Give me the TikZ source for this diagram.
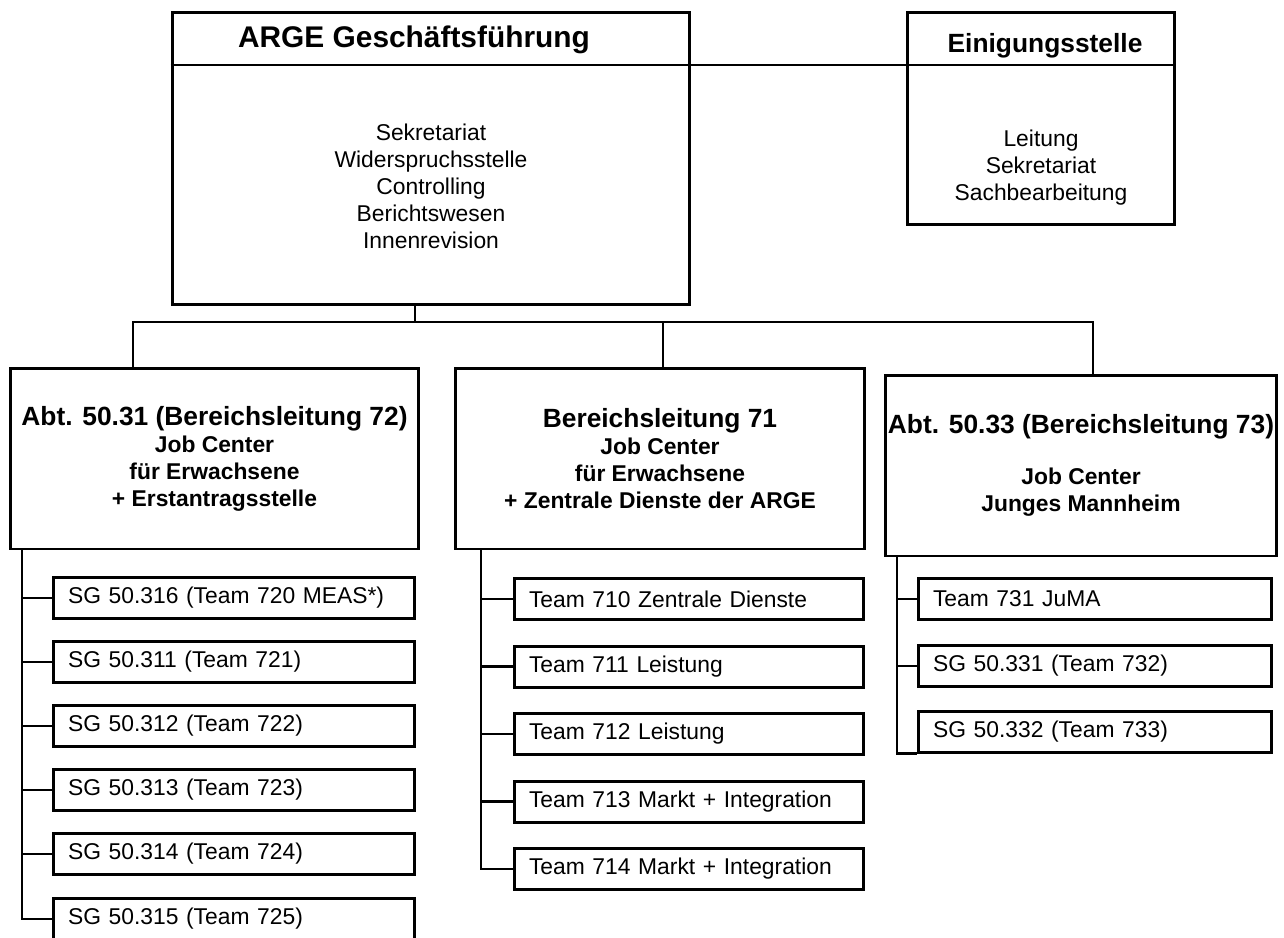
\documentclass[tikz,border=0pt]{standalone}
\usepackage{fontspec}
\setmainfont{Liberation Sans}
\usetikzlibrary{positioning, calc}

\begin{document}
\begin{tikzpicture}[x=0.02cm, y=-0.02cm,
  unit/.style={draw, rectangle, line width=1.7pt, inner sep=0pt, align=center, font=\bfseries\fontsize{13}{15.4}\selectfont},
  team/.style={draw, rectangle, line width=1.7pt, minimum height=0.82cm, inner xsep=0.3cm, inner ysep=0pt, align=left, font=\fontsize{13}{15.4}\selectfont},
  body/.style={align=center, font=\fontsize{13}{15.4}\selectfont},
  link/.style={line width=1.6pt}]
  \useasboundingbox (0,0) rectangle (1284,937);

  % Geschaeftsfuehrung + Einigungsstelle
  \node[unit, minimum width=10.36cm, minimum height=5.86cm] (arge) at (431,158.5) {};
  \node[font=\bfseries\fontsize{17}{20}\selectfont] (argetitle) at (414,40) {ARGE Geschäftsführung};
  \node[body] (argebody) at (431,186) {Sekretariat\\Widerspruchsstelle\\Controlling\\Berichtswesen\\Innenrevision};

  \node[unit, minimum width=5.36cm, minimum height=4.26cm] (einig) at (1041,118.5) {};
  \node[font=\bfseries\fontsize{15}{18}\selectfont] (einigtitle) at (1045,46) {Einigungsstelle};
  \node[body] (einigbody) at (1041,168) {Leitung\\Sekretariat\\Sachbearbeitung};

  \coordinate (hdr) at (0,65);
  \draw[line width=1.7pt] (arge.west |- hdr) -- (einig.east |- hdr);

  % Bereiche
  \node[unit, minimum width=8.18cm, minimum height=3.62cm] (b1) at (214.5,458.5)
    {{\fontsize{15}{18}\selectfont Abt. 50.31 (Bereichsleitung 72)}\\Job Center\\für Erwachsene\\+ Erstantragsstelle};
  \node[unit, minimum width=8.2cm, minimum height=3.62cm] (b2) at (660,458.5)
    {{\fontsize{15}{18}\selectfont Bereichsleitung 71}\\Job Center\\für Erwachsene\\+ Zentrale Dienste der ARGE};
  \node[unit, minimum width=7.84cm, minimum height=3.62cm] (b3) at (1081,465.5)
    {{\fontsize{15}{18}\selectfont Abt. 50.33 (Bereichsleitung 73)}\\[14pt]Job Center\\Junges Mannheim};

  \coordinate (fork) at (415,322);
  \coordinate (j1) at (133,322);
  \coordinate (j2) at (663,322);
  \coordinate (j3) at (1093,322);
  \draw[line width=1.2pt] (arge.south -| fork) -- (fork);
  \draw[line width=1.2pt] (j1 |- b1.north) -- (j1) -- (j3) -- (j3 |- b3.north);
  \draw[line width=1.2pt] (j2) -- (j2 |- b2.north);

  % Teams Bereich 72
  \node[team, text width=6.64cm] (t11) at (234,598) {SG 50.316 (Team 720 MEAS*)};
  \node[team, text width=6.64cm] (t12) at (234,662) {SG 50.311 (Team 721)};
  \node[team, text width=6.64cm] (t13) at (234,726) {SG 50.312 (Team 722)};
  \node[team, text width=6.64cm] (t14) at (234,790) {SG 50.313 (Team 723)};
  \node[team, text width=6.64cm] (t15) at (234,854) {SG 50.314 (Team 724)};
  \node[team, text width=6.64cm] (t16) at (234,919) {SG 50.315 (Team 725)};
  \coordinate (s1) at (22,549);
  \draw[link] (s1) -- (s1 |- t16.west) -- (t16.west);
  \draw[link] (s1 |- t11.west) -- (t11.west) (s1 |- t12.west) -- (t12.west)
    (s1 |- t13.west) -- (t13.west) (s1 |- t14.west) -- (t14.west)
    (s1 |- t15.west) -- (t15.west);

  % Teams Bereich 71
  \node[team, text width=6.4cm] (t21) at (689,599) {Team 710 Zentrale Dienste};
  \node[team, text width=6.4cm] (t22) at (689,666.5) {Team 711 Leistung};
  \node[team, text width=6.4cm] (t23) at (689,734) {Team 712 Leistung};
  \node[team, text width=6.4cm] (t24) at (689,801.5) {Team 713 Markt + Integration};
  \node[team, text width=6.4cm] (t25) at (689,869) {Team 714 Markt + Integration};
  \coordinate (s2) at (481,549);
  \draw[link] (s2) -- (s2 |- t25.west) -- (t25.west);
  \draw[link] (s2 |- t21.west) -- (t21.west) (s2 |- t22.west) -- (t22.west)
    (s2 |- t23.west) -- (t23.west) (s2 |- t24.west) -- (t24.west);

  % Teams Bereich 73
  \node[team, text width=6.48cm] (t31) at (1095,599) {Team 731 JuMA};
  \node[team, text width=6.48cm] (t32) at (1095,666) {SG 50.331 (Team 732)};
  \node[team, text width=6.48cm] (t33) at (1095,731.5) {SG 50.332 (Team 733)};
  \coordinate (s3) at (897,556);
  \draw[link] (s3) -- (s3 |- t33.south west) -- (t33.south west);
  \draw[link] (s3 |- t31.west) -- (t31.west) (s3 |- t32.west) -- (t32.west);
\end{tikzpicture}
\end{document}
